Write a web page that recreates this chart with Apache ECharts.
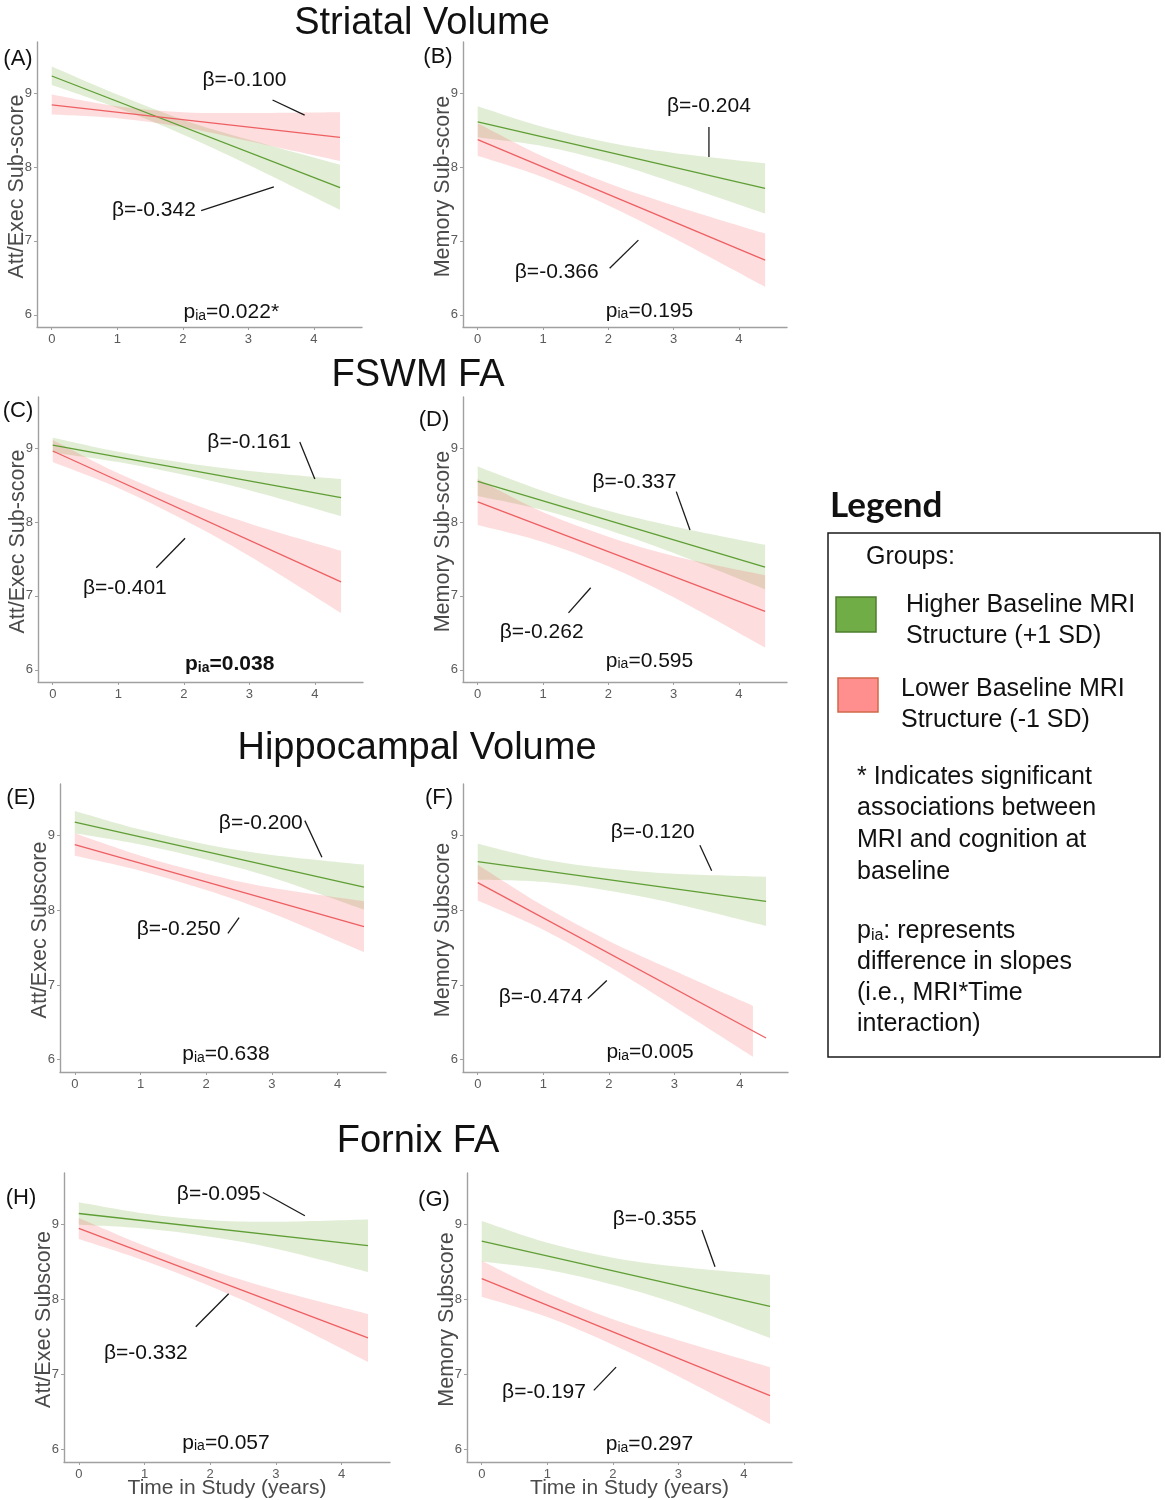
<!DOCTYPE html>
<html><head><meta charset="utf-8">
<script src="https://cdn.jsdelivr.net/npm/echarts@6/dist/echarts.min.js"></script>
<style>html,body{margin:0;padding:0;background:#fff}#c{width:1165px;height:1500px}</style>
</head><body><div id="c"></div>
<script>
// ================= DATA =================
const timeTicks = [0, 1, 2, 3, 4];
const scoreTicks = [6, 7, 8, 9];
const lineTimes = [0, 4.4];
const bandTimes = [0, 1, 2, 3, 4.4];
const bandTimesShort = [0, 1, 2, 3, 4.2];

const panelIds = ['A', 'B', 'C', 'D', 'E', 'F', 'H', 'G'];
const sectionTitles = ['Striatal Volume', 'FSWM FA', 'Hippocampal Volume', 'Fornix FA'];
const yTitles = ['Att/Exec Sub-score', 'Memory Sub-score', 'Att/Exec Sub-score', 'Memory Sub-score',
                 'Att/Exec Subscore', 'Memory Subscore', 'Att/Exec Subscore', 'Memory Subscore'];
const xTitle = 'Time in Study (years)';
const betaUpperLabels = ['β=-0.100', 'β=-0.204', 'β=-0.161', 'β=-0.337', 'β=-0.200', 'β=-0.120', 'β=-0.095', 'β=-0.355'];
const betaLowerLabels = ['β=-0.342', 'β=-0.366', 'β=-0.401', 'β=-0.262', 'β=-0.250', 'β=-0.474', 'β=-0.332', 'β=-0.197'];
const pValues = ['0.022*', '0.195', '0.038', '0.595', '0.638', '0.005', '0.057', '0.297'];
const pBold = [false, false, true, false, false, false, false, false];

// Higher baseline (+1 SD) / Lower baseline (-1 SD): line at t=0 and t=4.4, band lower/upper at band times
const A_high = [9.23, 7.72]; const A_highUpper = [9.36, 8.98, 8.64, 8.37, 8.03]; const A_highLower = [9.11, 8.80, 8.44, 8.03, 7.42];
const A_low  = [8.84, 8.40]; const A_lowUpper  = [8.98, 8.82, 8.74, 8.73, 8.74]; const A_lowLower  = [8.71, 8.66, 8.54, 8.35, 8.08];
const B_high = [8.61, 7.71]; const B_highUpper = [8.82, 8.54, 8.33, 8.19, 8.05]; const B_highLower = [8.40, 8.28, 8.07, 7.79, 7.37];
const B_low  = [8.37, 6.74]; const B_lowUpper  = [8.59, 8.14, 7.78, 7.48, 7.10]; const B_lowLower  = [8.15, 7.86, 7.48, 7.04, 6.38];
const C_high = [9.04, 8.33]; const C_highUpper = [9.14, 8.95, 8.80, 8.69, 8.58]; const C_highLower = [8.94, 8.81, 8.64, 8.43, 8.08];
const C_low  = [8.96, 7.19]; const C_lowUpper  = [9.11, 8.66, 8.29, 7.98, 7.61]; const C_lowLower  = [8.81, 8.46, 8.03, 7.54, 6.77];
const D_high = [8.55, 7.39]; const D_highUpper = [8.75, 8.42, 8.15, 7.94, 7.69]; const D_highLower = [8.35, 8.16, 7.89, 7.58, 7.09];
const D_low  = [8.27, 6.79]; const D_lowUpper  = [8.58, 8.13, 7.80, 7.54, 7.28]; const D_lowLower  = [7.96, 7.73, 7.40, 6.98, 6.30];
const E_high = [9.18, 8.31]; const E_highUpper = [9.33, 9.08, 8.88, 8.74, 8.61]; const E_highLower = [9.03, 8.88, 8.68, 8.44, 8.01];
const E_low  = [8.88, 7.78]; const E_lowUpper  = [9.03, 8.73, 8.49, 8.30, 8.12]; const E_lowLower  = [8.73, 8.53, 8.27, 7.96, 7.44];
const F_high = [8.65, 8.12]; const F_highUpper = [8.89, 8.68, 8.56, 8.49, 8.45]; const F_highLower = [8.41, 8.38, 8.26, 8.09, 7.79];
const F_low  = [8.37, 6.29]; const F_lowUpper  = [8.61, 8.06, 7.59, 7.19, 6.72]; const F_lowLower  = [8.13, 7.74, 7.25, 6.71, 6.04];
const H_high = [9.15, 8.72]; const H_highUpper = [9.30, 9.15, 9.06, 9.04, 9.07]; const H_highLower = [9.00, 8.95, 8.84, 8.68, 8.37];
const H_low  = [8.95, 7.49]; const H_lowUpper  = [9.09, 8.72, 8.40, 8.13, 7.81]; const H_lowLower  = [8.81, 8.52, 8.18, 7.79, 7.17];
const G_high = [8.78, 7.91]; const G_highUpper = [9.05, 8.76, 8.56, 8.44, 8.33]; const G_highLower = [8.51, 8.40, 8.20, 7.94, 7.49];
const G_low  = [8.28, 6.72]; const G_lowUpper  = [8.52, 8.09, 7.74, 7.46, 7.10]; const G_lowLower  = [8.04, 7.77, 7.40, 6.98, 6.34];

const legendTitle = 'Legend';
const legendGroups = 'Groups:';
const legendHigh = ['Higher Baseline MRI', 'Structure (+1 SD)'];
const legendLow = ['Lower Baseline MRI', 'Structure (-1 SD)'];
const legendNote1 = ['* Indicates significant', 'associations between', 'MRI and cognition at', 'baseline'];
const legendNote2 = [': represents', 'difference in slopes', '(i.e., MRI*Time', 'interaction)'];

// ================= LAYOUT / STYLE =================
const panels = [
  {hi: A_high, hiU: A_highUpper, hiL: A_highLower, lo: A_low, loU: A_lowUpper, loL: A_lowLower, loT: bandTimes},
  {hi: B_high, hiU: B_highUpper, hiL: B_highLower, lo: B_low, loU: B_lowUpper, loL: B_lowLower, loT: bandTimes},
  {hi: C_high, hiU: C_highUpper, hiL: C_highLower, lo: C_low, loU: C_lowUpper, loL: C_lowLower, loT: bandTimes},
  {hi: D_high, hiU: D_highUpper, hiL: D_highLower, lo: D_low, loU: D_lowUpper, loL: D_lowLower, loT: bandTimes},
  {hi: E_high, hiU: E_highUpper, hiL: E_highLower, lo: E_low, loU: E_lowUpper, loL: E_lowLower, loT: bandTimes},
  {hi: F_high, hiU: F_highUpper, hiL: F_highLower, lo: F_low, loU: F_lowUpper, loL: F_lowLower, loT: bandTimesShort},
  {hi: H_high, hiU: H_highUpper, hiL: H_highLower, lo: H_low, loU: H_lowUpper, loL: H_lowLower, loT: bandTimes},
  {hi: G_high, hiU: G_highUpper, hiL: G_highLower, lo: G_low, loU: G_lowUpper, loL: G_lowLower, loT: bandTimes}
];
const gridRects = [
  {left: 37, top: 42, width: 325, height: 285},
  {left: 463, top: 42, width: 324, height: 285},
  {left: 38, top: 397, width: 325, height: 285},
  {left: 463, top: 397, width: 324, height: 285},
  {left: 60, top: 784, width: 326, height: 288},
  {left: 463, top: 784, width: 325, height: 288},
  {left: 64, top: 1173, width: 326, height: 289},
  {left: 467, top: 1173, width: 325, height: 289}
];
const X_MIN = -0.225, X_MAX = 4.735, Y_MIN = 5.835, Y_MAX = 9.69;
const sectionTitlePos = [[422, 24], [418, 376], [417, 749], [418, 1142]];
const panelLabelPos = [[18, 59], [438, 57], [18, 411], [434, 420], [21, 798], [439, 798], [21, 1198], [434, 1200]];
// annotation anchors in data coordinates
const annot = [
  {up: [2.94, 9.18], upLine: [[3.37, 8.905], [3.86, 8.70]], low: [1.56, 7.41], lowLine: [[2.28, 7.41], [3.39, 7.73]], p: [2.74, 6.05]},
  {up: [3.54, 8.82], upLine: [[3.54, 8.54], [3.54, 8.135]], low: [1.21, 6.57], lowLine: [[2.02, 6.63], [2.46, 7.01]], p: [2.63, 6.07]},
  {up: [3.0, 9.08], upLine: [[3.77, 9.08], [4.0, 8.58]], low: [1.10, 7.11], lowLine: [[1.58, 7.38], [2.02, 7.78]], p: [2.70, 6.09]},
  {up: [2.40, 8.54], upLine: [[3.04, 8.41], [3.25, 7.89]], low: [0.98, 6.51], lowLine: [[1.39, 6.77], [1.73, 7.11]], p: [2.63, 6.14]},
  {up: [2.83, 9.17], upLine: [[3.5, 9.2], [3.76, 8.71]], low: [1.58, 7.74], lowLine: [[2.33, 7.69], [2.50, 7.90]], p: [2.30, 6.09]},
  {up: [2.67, 9.04], upLine: [[3.39, 8.87], [3.57, 8.53]], low: [0.96, 6.84], lowLine: [[1.68, 6.82], [1.97, 7.06]], p: [2.63, 6.12]},
  {up: [2.13, 9.41], upLine: [[2.80, 9.43], [3.44, 9.12]], low: [1.02, 7.28], lowLine: [[1.78, 7.64], [2.28, 8.08]], p: [2.24, 6.11]},
  {up: [2.64, 9.08], upLine: [[3.36, 8.93], [3.56, 8.44]], low: [0.95, 6.76], lowLine: [[1.71, 6.79], [2.05, 7.10]], p: [2.56, 6.09]}
];
const FONT = '"Liberation Sans", Arial, sans-serif';
const GREEN_LINE = '#5f9e35', RED_LINE = '#ee5f62';
const GREEN_FILL = 'rgba(135,185,85,0.25)', RED_FILL = 'rgba(246,100,106,0.22)';
const AXIS_COLOR = '#a0a0a0', TICK_LABEL = '#5a5a5a', TITLE_GREY = '#4a4a4a';

// ================= BUILD =================
const chart = echarts.init(document.getElementById('c'), null, {renderer: 'canvas'});

// smooth (Catmull-Rom) edge through pixel points, as cubic bezier commands
function smoothEdge(pts) {
  let d = '';
  for (let i = 0; i < pts.length - 1; i++) {
    const p0 = pts[Math.max(i - 1, 0)], p1 = pts[i], p2 = pts[i + 1], p3 = pts[Math.min(i + 2, pts.length - 1)];
    const c1 = [p1[0] + (p2[0] - p0[0]) / 6, p1[1] + (p2[1] - p0[1]) / 6];
    const c2 = [p2[0] - (p3[0] - p1[0]) / 6, p2[1] - (p3[1] - p1[1]) / 6];
    d += ' C' + c1[0].toFixed(2) + ' ' + c1[1].toFixed(2) + ' ' + c2[0].toFixed(2) + ' ' + c2[1].toFixed(2) + ' ' + p2[0].toFixed(2) + ' ' + p2[1].toFixed(2);
  }
  return d;
}
function bandSeries(gi, times, lower, upper, fill) {
  return {
    type: 'custom', xAxisIndex: gi, yAxisIndex: gi, silent: true, z: 2,
    data: times.map((t, i) => [t, lower[i], upper[i]]),
    encode: {x: 0, y: [1, 2]},
    renderItem: function (params, api) {
      if (params.dataIndex !== 0) return null;
      const up = times.map((t, i) => api.coord([t, upper[i]]));
      const lo = times.map((t, i) => api.coord([t, lower[i]])).reverse();
      const d = 'M' + up[0][0].toFixed(2) + ' ' + up[0][1].toFixed(2) + smoothEdge(up) +
                ' L' + lo[0][0].toFixed(2) + ' ' + lo[0][1].toFixed(2) + smoothEdge(lo) + ' Z';
      return {type: 'path', shape: {pathData: d}, style: {fill: fill}};
    }
  };
}
function lineSeries(gi, vals, color) {
  return {
    type: 'line', xAxisIndex: gi, yAxisIndex: gi, silent: true, z: 3,
    data: lineTimes.map((t, i) => [t, vals[i]]),
    symbol: 'none', lineStyle: {color: color, width: 1.3}, animation: false
  };
}

const grid = [], xAxis = [], yAxis = [], series = [];
panels.forEach((p, gi) => {
  grid.push(Object.assign({containLabel: false}, gridRects[gi]));
  xAxis.push({
    type: 'value', gridIndex: gi, min: X_MIN, max: X_MAX,
    splitLine: {show: false},
    axisLine: {show: true, onZero: false, lineStyle: {color: AXIS_COLOR, width: 1.4}},
    axisTick: {show: true, length: 3, lineStyle: {color: AXIS_COLOR}, customValues: timeTicks},
    axisLabel: {show: true, color: TICK_LABEL, fontSize: 13, fontFamily: FONT, margin: 6, customValues: timeTicks}
  });
  yAxis.push({
    type: 'value', gridIndex: gi, min: Y_MIN, max: Y_MAX,
    splitLine: {show: false},
    axisLine: {show: true, onZero: false, lineStyle: {color: AXIS_COLOR, width: 1.4}},
    axisTick: {show: true, length: 3, lineStyle: {color: AXIS_COLOR}, customValues: scoreTicks},
    axisLabel: {show: true, color: TICK_LABEL, fontSize: 13, fontFamily: FONT, margin: 5, customValues: scoreTicks}
  });
  series.push(bandSeries(gi, bandTimes, p.hiL, p.hiU, GREEN_FILL));
  series.push(bandSeries(gi, p.loT, p.loL, p.loU, RED_FILL));
  series.push(lineSeries(gi, p.hi, GREEN_LINE));
  series.push(lineSeries(gi, p.lo, RED_LINE));
});

chart.setOption({animation: false, backgroundColor: '#fff', grid, xAxis, yAxis, series});

// ================= TEXT / ANNOTATIONS =================
const graphic = [];
function txt(x, y, text, size, opts) {
  return Object.assign({
    type: 'text', x: x, y: y, silent: true, z: 10,
    style: Object.assign({text: text, fontSize: size, fontFamily: FONT, fill: '#111', align: 'center', verticalAlign: 'middle'}, (opts && opts.style) || {})
  }, (opts && opts.el) || {});
}
sectionTitles.forEach((t, i) => graphic.push(txt(sectionTitlePos[i][0], sectionTitlePos[i][1], t, 38)));
panelIds.forEach((id, i) => graphic.push(txt(panelLabelPos[i][0], panelLabelPos[i][1], '(' + id + ')', 22)));
gridRects.forEach((r, i) => {
  graphic.push(txt(r.left - 20, r.top + r.height / 2 + 2, yTitles[i], 21.5, {style: {fill: TITLE_GREY}, el: {rotation: Math.PI / 2}}));
});
[6, 7].forEach(i => {
  const r = gridRects[i];
  graphic.push(txt(r.left + r.width / 2, 1488, xTitle, 21, {style: {fill: TITLE_GREY}}));
});
annot.forEach((a, gi) => {
  const f = {gridIndex: gi};
  const pu = chart.convertToPixel(f, a.up), pl = chart.convertToPixel(f, a.low), pp = chart.convertToPixel(f, a.p);
  graphic.push(txt(pu[0], pu[1], betaUpperLabels[gi], 21));
  graphic.push(txt(pl[0], pl[1], betaLowerLabels[gi], 21));
  [a.upLine, a.lowLine].forEach(seg => {
    const s = chart.convertToPixel(f, seg[0]), e = chart.convertToPixel(f, seg[1]);
    graphic.push({type: 'line', silent: true, z: 10, shape: {x1: s[0], y1: s[1], x2: e[0], y2: e[1]}, style: {stroke: '#1a1a1a', lineWidth: 1.3}});
  });
  const w = pBold[gi] ? 'bold' : 'normal';
  graphic.push({
    type: 'text', x: pp[0], y: pp[1], silent: true, z: 10,
    style: {
      text: '{m|p}{s|ia}{m|=' + pValues[gi] + '}', align: 'center', verticalAlign: 'middle',
      rich: {
        m: {fontSize: 21, fontFamily: FONT, fill: '#111', fontWeight: w, lineHeight: 24, verticalAlign: 'bottom'},
        s: {fontSize: 14, fontFamily: FONT, fill: '#111', fontWeight: w, lineHeight: 14, padding: [10, 0, 0, 0], verticalAlign: 'bottom'}
      }
    }
  });
});

// Legend block
graphic.push(txt(830, 506, legendTitle, 35, {style: {fontFamily: 'Lato, "Liberation Sans", sans-serif', fontWeight: 'bold', align: 'left'}}));
graphic.push({type: 'rect', silent: true, shape: {x: 828, y: 533, width: 332, height: 524}, style: {fill: 'none', stroke: '#1a1a1a', lineWidth: 1.5}});
graphic.push(txt(866, 557, legendGroups, 25, {style: {align: 'left'}}));
graphic.push({type: 'rect', silent: true, shape: {x: 836, y: 597, width: 40, height: 35}, style: {fill: '#70ad47', stroke: '#4f7d30', lineWidth: 1.5}});
graphic.push(txt(906, 605, legendHigh[0], 25, {style: {align: 'left'}}));
graphic.push(txt(906, 636, legendHigh[1], 25, {style: {align: 'left'}}));
graphic.push({type: 'rect', silent: true, shape: {x: 838, y: 678, width: 40, height: 34}, style: {fill: '#ff8e8e', stroke: '#cf6a48', lineWidth: 1.5}});
graphic.push(txt(901, 689, legendLow[0], 25, {style: {align: 'left'}}));
graphic.push(txt(901, 720, legendLow[1], 25, {style: {align: 'left'}}));
legendNote1.forEach((t, i) => graphic.push(txt(857, 777 + i * 31.6, t, 25, {style: {align: 'left'}})));
graphic.push({
  type: 'text', x: 857, y: 930, silent: true, z: 10,
  style: {
    text: '{m|p}{s|ia}{m|' + legendNote2[0] + '}', align: 'left', verticalAlign: 'middle',
    rich: {
      m: {fontSize: 25, fontFamily: FONT, fill: '#111', lineHeight: 28, verticalAlign: 'bottom'},
      s: {fontSize: 16, fontFamily: FONT, fill: '#111', lineHeight: 16, padding: [10, 0, 0, 0], verticalAlign: 'bottom'}
    }
  }
});
legendNote2.slice(1).forEach((t, i) => graphic.push(txt(857, 962 + i * 31.3, t, 25, {style: {align: 'left'}})));

chart.setOption({graphic: graphic});
</script></body></html>
